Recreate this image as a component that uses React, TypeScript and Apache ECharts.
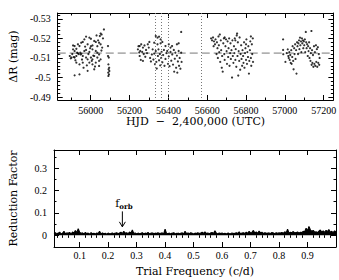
import React, { useEffect, useRef } from "react";
import * as echarts from "echarts";

// ---------- Data ----------
const HJD_TICKS = [56000, 56200, 56400, 56600, 56800, 57000, 57200];
const MAG_TICKS = [-0.53, -0.52, -0.51, -0.5, -0.49];
const FREQ_TICKS = [0.1, 0.2, 0.3, 0.4, 0.5, 0.6, 0.7, 0.8, 0.9];
const RF_TICKS = [0, 0.1, 0.2, 0.3];

const MEAN_MAG = -0.5125;
const EPOCH_MARKS = [56330, 56365, 56400, 56570];
const F_ORB = 0.25;

const SEASON_1: [number, number][] = [
  [55892, -0.511], [55897, -0.5098], [55901, -0.5102], [55905, -0.512], [55909, -0.5144], [55909, -0.5164],
  [55913, -0.5105], [55917, -0.5161], [55917, -0.5136], [55917, -0.5102], [55917, -0.5011], [55921, -0.5088],
  [55926, -0.5147], [55926, -0.511], [55926, -0.5076], [55930, -0.5127], [55934, -0.517], [55934, -0.5124],
  [55938, -0.512], [55942, -0.5161], [55942, -0.5067], [55942, -0.5016], [55946, -0.5127], [55948, -0.5118],
  [55951, -0.5178], [55952, -0.5122], [55955, -0.5092], [55959, -0.5182], [55959, -0.511], [55959, -0.5076],
  [55963, -0.505], [55967, -0.5195], [55967, -0.5136], [55971, -0.5158], [55976, -0.5209], [55976, -0.5141],
  [55976, -0.5102], [55980, -0.5062], [55984, -0.517], [55984, -0.5093], [55984, -0.5034], [55988, -0.512],
  [55993, -0.5204], [55993, -0.5131], [55993, -0.5076], [55997, -0.515], [56001, -0.5198], [56001, -0.516],
  [56001, -0.5102], [56005, -0.5085], [56009, -0.5164], [56009, -0.5144], [56009, -0.5093], [56009, -0.5067],
  [56013, -0.5112], [56018, -0.5187], [56018, -0.511], [56018, -0.5042], [56022, -0.5056], [56026, -0.5182],
  [56026, -0.5136], [56026, -0.5076], [56030, -0.5215], [56034, -0.516], [56034, -0.5127], [56034, -0.5102],
  [56038, -0.519], [56043, -0.5178], [56043, -0.5118], [56043, -0.5085], [56043, -0.5059], [56047, -0.5212],
  [56051, -0.5225], [56051, -0.517], [56051, -0.5093], [56055, -0.5138], [56056, -0.522], [56059, -0.5153],
  [56063, -0.52], [56068, -0.5246], [56089, -0.5161], [56089, -0.511], [56091, -0.5067], [56093, -0.5102],
  [56095, -0.505], [56092, -0.5042], [56096, -0.5033], [56090, -0.5025], [56094, -0.5016], [56091, -0.5008],
];

const SEASON_2: [number, number][] = [
  [56243, -0.5144], [56246, -0.516], [56250, -0.5128], [56252, -0.5161], [56252, -0.511], [56255, -0.5136],
  [56258, -0.509], [56260, -0.517], [56265, -0.5131], [56269, -0.5153], [56269, -0.5085], [56273, -0.512],
  [56277, -0.5164], [56281, -0.5106], [56285, -0.5141], [56290, -0.5125], [56294, -0.517], [56299, -0.5153],
  [56302, -0.5182], [56306, -0.51], [56310, -0.5082], [56315, -0.5118], [56319, -0.5144], [56323, -0.5092],
  [56327, -0.5178], [56327, -0.5122], [56331, -0.5068], [56335, -0.5212], [56335, -0.5136], [56338, -0.508],
  [56340, -0.5046], [56344, -0.5204], [56344, -0.517], [56346, -0.511], [56349, -0.5144], [56352, -0.5209],
  [56352, -0.5088], [56356, -0.512], [56358, -0.5062], [56360, -0.5195], [56360, -0.5175], [56363, -0.51],
  [56365, -0.5131], [56369, -0.5182], [56369, -0.5078], [56373, -0.5115], [56377, -0.5141], [56380, -0.506],
  [56385, -0.5161], [56385, -0.5095], [56390, -0.5125], [56394, -0.5136], [56398, -0.507], [56402, -0.517],
  [56402, -0.5108], [56406, -0.5058], [56411, -0.5153], [56411, -0.5131], [56415, -0.5086], [56419, -0.5161],
  [56420, -0.5118], [56424, -0.5066], [56428, -0.5141], [56430, -0.503], [56433, -0.5096], [56436, -0.5127],
  [56440, -0.505], [56444, -0.517], [56444, -0.5112], [56446, -0.5025], [56449, -0.5082], [56453, -0.5175],
  [56453, -0.5136], [56455, -0.506], [56458, -0.51], [56462, -0.5045], [56466, -0.5233], [56466, -0.5127],
  [56468, -0.508],
];

const SEASON_3: [number, number][] = [
  [56620, -0.52], [56625, -0.519], [56630, -0.5205], [56633, -0.516], [56635, -0.5185], [56640, -0.517],
  [56643, -0.5195], [56648, -0.512], [56650, -0.518], [56653, -0.515], [56655, -0.51], [56658, -0.521],
  [56660, -0.5165], [56662, -0.513], [56665, -0.522], [56667, -0.508], [56670, -0.519], [56672, -0.514],
  [56675, -0.505], [56677, -0.511], [56680, -0.503], [56683, -0.5175], [56686, -0.52], [56688, -0.512],
  [56690, -0.509], [56690, -0.5205], [56694, -0.516], [56697, -0.5195], [56700, -0.5135], [56702, -0.507],
  [56705, -0.5185], [56708, -0.5105], [56710, -0.515], [56713, -0.52], [56715, -0.506], [56718, -0.5125],
  [56720, -0.5175], [56722, -0.5095], [56725, -0.514], [56728, -0.5], [56730, -0.519], [56732, -0.511],
  [56735, -0.5075], [56738, -0.516], [56740, -0.5125], [56742, -0.52], [56745, -0.509], [56745, -0.519],
  [56747, -0.5145], [56750, -0.5055], [56752, -0.5215], [56754, -0.5225], [56756, -0.511], [56758, -0.518],
  [56760, -0.501], [56762, -0.5135], [56765, -0.5085], [56767, -0.5205], [56770, -0.504], [56772, -0.512],
  [56775, -0.5165], [56777, -0.5095], [56780, -0.506], [56782, -0.514], [56785, -0.511], [56787, -0.5075],
  [56790, -0.518], [56792, -0.505], [56795, -0.5125], [56797, -0.515], [56800, -0.509], [56800, -0.517],
  [56802, -0.5195], [56805, -0.507], [56807, -0.513], [56810, -0.5105], [56812, -0.516], [56815, -0.502],
  [56817, -0.5085], [56820, -0.514], [56822, -0.5185], [56825, -0.51], [56825, -0.521], [56827, -0.506],
  [56830, -0.517], [56832, -0.512], [56835, -0.52], [56836, -0.508],
];

const SEASON_4: [number, number][] = [
  [56991, -0.5195], [56991, -0.5141], [56992, -0.5119], [57003, -0.508], [57010, -0.5125], [57015, -0.5144],
  [57018, -0.511], [57020, -0.51], [57023, -0.513], [57025, -0.509], [57028, -0.5115], [57030, -0.5075],
  [57033, -0.514], [57035, -0.507], [57038, -0.5105], [57040, -0.516], [57043, -0.5085], [57045, -0.5042],
  [57048, -0.515], [57050, -0.512], [57053, -0.517], [57055, -0.5095], [57058, -0.514], [57060, -0.502],
  [57063, -0.518], [57065, -0.516], [57068, -0.512], [57070, -0.5175], [57073, -0.519], [57075, -0.5145],
  [57078, -0.5204], [57080, -0.5165], [57083, -0.5185], [57085, -0.513], [57088, -0.52], [57090, -0.5175],
  [57093, -0.519], [57095, -0.515], [57098, -0.5185], [57100, -0.5165], [57103, -0.5195], [57105, -0.513],
  [57108, -0.5233], [57110, -0.518], [57112, -0.515], [57115, -0.517], [57118, -0.511], [57120, -0.516],
  [57122, -0.5135], [57125, -0.518], [57127, -0.51], [57130, -0.515], [57132, -0.5085], [57134, -0.5125],
  [57137, -0.5238], [57138, -0.5065], [57140, -0.514], [57142, -0.5075], [57145, -0.5115], [57147, -0.5055],
  [57150, -0.516], [57152, -0.507], [57155, -0.513], [57157, -0.506], [57160, -0.5165], [57162, -0.508],
  [57165, -0.5145], [57167, -0.5055], [57170, -0.5155], [57172, -0.5075], [57175, -0.512], [57177, -0.5065],
  [57179, -0.51],
];

// Reduction factor sampled on the trial-frequency grid (start 0.01, step 0.005)
const FREQ_START = 0.01;
const FREQ_STEP = 0.005;
const RF_VALUES = [
  0.008, 0.012, 0.005, 0.01, 0.014, 0.006, 0.009, 0.018, 0.007, 0.011,
  0.009, 0.013, 0.006, 0.015, 0.01, 0.022, 0.012, 0.03, 0.014, 0.009,
  0.011, 0.006, 0.013, 0.008, 0.01, 0.005, 0.012, 0.007, 0.009, 0.006,
  0.01, 0.008, 0.018, 0.006, 0.011, 0.007, 0.009, 0.005, 0.01, 0.007,
  0.008, 0.011, 0.006, 0.009, 0.012, 0.007, 0.01, 0.014, 0.008, 0.018,
  0.009, 0.012, 0.007, 0.015, 0.01, 0.024, 0.008, 0.011, 0.006, 0.01,
  0.007, 0.009, 0.012, 0.006, 0.01, 0.008, 0.013, 0.007, 0.009, 0.011,
  0.006, 0.01, 0.008, 0.012, 0.007, 0.009, 0.011, 0.006, 0.028, 0.009,
  0.007, 0.01, 0.006, 0.009, 0.012, 0.008, 0.006, 0.01, 0.007, 0.009,
  0.011, 0.006, 0.018, 0.008, 0.01, 0.007, 0.012, 0.009, 0.006, 0.01,
  0.008, 0.012, 0.007, 0.01, 0.014, 0.009, 0.016, 0.008, 0.011, 0.007,
  0.01, 0.013, 0.008, 0.02, 0.009, 0.006, 0.011, 0.008, 0.01, 0.007,
  0.009, 0.006, 0.01, 0.008, 0.007, 0.011, 0.006, 0.009, 0.012, 0.008,
  0.016, 0.007, 0.01, 0.012, 0.008, 0.014, 0.009, 0.018, 0.011, 0.013,
  0.022, 0.01, 0.015, 0.009, 0.019, 0.011, 0.014, 0.008, 0.012, 0.01,
  0.009, 0.011, 0.008, 0.013, 0.01, 0.007, 0.012, 0.009, 0.011, 0.01,
  0.013, 0.009, 0.016, 0.011, 0.028, 0.01, 0.014, 0.012, 0.017, 0.011,
  0.012, 0.015, 0.01, 0.014, 0.013, 0.018, 0.016, 0.032, 0.02, 0.04,
  0.025, 0.018, 0.022, 0.014, 0.016, 0.012, 0.019, 0.024, 0.015, 0.02,
  0.013, 0.022, 0.017, 0.026, 0.014, 0.018, 0.012, 0.02, 0.016,
];

// ---------- Helpers ----------
const SERIF = "DejaVu Serif";
const TICK_FONT = "Liberation Serif";

function minorValues(start: number, end: number, step: number, skipEvery: number, scale: number) {
  const out: number[] = [];
  for (let k = start; k <= end; k++) {
    if (k % skipEvery === 0) continue;
    out.push(Math.round(k * step * scale) / scale);
  }
  return out;
}

function axisSet(
  dim: "x" | "y",
  gridIndex: number,
  cfg: {
    min: number;
    max: number;
    inverse?: boolean;
    majors: number[];
    minors: number[];
    labelMargin: number;
    name: string;
    nameGap: number;
  }
) {
  const sides = dim === "x" ? ["bottom", "top"] : ["left", "right"];
  const base: any = {
    type: "value",
    gridIndex,
    min: cfg.min,
    max: cfg.max,
    inverse: !!cfg.inverse,
    splitLine: { show: false },
    minorTick: { show: false },
  };
  const tickStyle = { color: "#000", width: 1 };
  const line = { show: true, onZero: false, lineStyle: { color: "#000", width: 1 } };
  const major = (pos: string, withLabel: boolean) => ({
    ...base,
    position: pos,
    axisLine: line,
    axisTick: { show: true, inside: true, length: 5, customValues: cfg.majors, lineStyle: tickStyle },
    axisLabel: withLabel
      ? {
          show: true,
          customValues: cfg.majors,
          margin: cfg.labelMargin,
          formatter: (v: number) => String(v),
          fontFamily: TICK_FONT,
          fontSize: 10,
          color: "#000",
        }
      : { show: false },
    ...(withLabel
      ? {
          name: cfg.name,
          nameLocation: "middle",
          nameGap: cfg.nameGap,
          nameTextStyle: { fontFamily: SERIF, fontSize: 11, color: "#000" },
        }
      : {}),
  });
  const minor = (pos: string) => ({
    ...base,
    position: pos,
    axisLine: { show: false },
    axisTick: { show: true, inside: true, length: 2.5, customValues: cfg.minors, lineStyle: tickStyle },
    axisLabel: { show: false },
  });
  return [major(sides[0], true), minor(sides[0]), major(sides[1], false), minor(sides[1])];
}

function buildOption() {
  const TOP_X = { min: 55830, max: 57250 };
  const TOP_Y = { min: -0.533, max: -0.4885 };
  const BOT_X = { min: 0.01, max: 1.0 };
  const BOT_Y = { min: -0.052, max: 0.381 };

  const xAxes = [
    ...axisSet("x", 0, {
      ...TOP_X,
      majors: HJD_TICKS,
      minors: minorValues(559, 571, 100, 2, 1),
      labelMargin: 5,
      name: "HJD  \u2212  2,400,000 (UTC)",
      nameGap: 16,
    }),
    ...axisSet("x", 1, {
      ...BOT_X,
      majors: FREQ_TICKS,
      minors: minorValues(1, 49, 0.02, 5, 1000),
      labelMargin: 3,
      name: "Trial Frequency (c/d)",
      nameGap: 19,
    }),
  ];
  const yAxes = [
    ...axisSet("y", 0, {
      ...TOP_Y,
      inverse: true,
      majors: MAG_TICKS,
      minors: minorValues(-266, -245, 0.002, 5, 10000),
      labelMargin: 7,
      name: "\u0394R (mag)",
      nameGap: 35,
    }),
    ...axisSet("y", 1, {
      ...BOT_Y,
      majors: RF_TICKS,
      minors: [0.05, 0.15, 0.25, 0.35],
      labelMargin: 7,
      name: "Reduction Factor",
      nameGap: 35,
    }),
  ];

  const lightCurve = [...SEASON_1, ...SEASON_2, ...SEASON_3, ...SEASON_4];
  const rf = RF_VALUES.map((v, i) => [FREQ_START + i * FREQ_STEP, v]);

  return {
    animation: false,
    backgroundColor: "#fff",
    grid: [
      { left: 53, right: 3, top: 13, height: 87 },
      { left: 53, right: 3, top: 150, height: 97 },
    ],
    xAxis: xAxes,
    yAxis: yAxes,
    series: [
      {
        type: "line",
        xAxisIndex: 0,
        yAxisIndex: 0,
        z: 1,
        silent: true,
        showSymbol: false,
        data: [
          [TOP_X.min, MEAN_MAG],
          [TOP_X.max, MEAN_MAG],
        ],
        lineStyle: { color: "#777", width: 1, type: [8, 4] },
        markLine: {
          silent: true,
          symbol: "none",
          label: { show: false },
          lineStyle: { color: "#777", width: 1, type: [1, 2] },
          data: EPOCH_MARKS.map((v) => ({ xAxis: v })),
        },
      },
      {
        type: "scatter",
        xAxisIndex: 0,
        yAxisIndex: 0,
        z: 3,
        symbol: "circle",
        symbolSize: 2.2,
        itemStyle: { color: "#000" },
        data: lightCurve,
      },
      {
        type: "line",
        xAxisIndex: 4,
        yAxisIndex: 4,
        showSymbol: false,
        silent: true,
        lineStyle: { color: "#000", width: 1.1 },
        areaStyle: { color: "#000", opacity: 1 },
        data: rf,
      },
      {
        type: "custom",
        xAxisIndex: 4,
        yAxisIndex: 4,
        silent: true,
        data: [[F_ORB, 0.107, 0.038, 0.142]],
        renderItem: (params: any, api: any) => {
          const top = api.coord([api.value(0), api.value(1)]);
          const bot = api.coord([api.value(0), api.value(2)]);
          const txt = api.coord([api.value(0), api.value(3)]);
          const stroke = { stroke: "#000", lineWidth: 1, fill: "none" };
          return {
            type: "group",
            children: [
              { type: "line", shape: { x1: top[0], y1: top[1], x2: bot[0], y2: bot[1] }, style: stroke },
              {
                type: "polyline",
                shape: { points: [[bot[0] - 3, bot[1] - 5], [bot[0], bot[1]], [bot[0] + 3, bot[1] - 5]] },
                style: stroke,
              },
              {
                type: "text",
                x: txt[0] - 5,
                y: txt[1],
                style: { text: "f", fontFamily: SERIF, fontSize: 11, fill: "#000", align: "center", verticalAlign: "middle" },
              },
              {
                type: "text",
                x: txt[0] - 3,
                y: txt[1] + 3,
                style: { text: "orb", fontFamily: SERIF, fontSize: 7, fontWeight: "bold", fill: "#000", align: "left", verticalAlign: "middle" },
              },
            ],
          };
        },
      },
    ],
  };
}

export default function App() {
  const ref = useRef<HTMLDivElement>(null);
  useEffect(() => {
    const chart = echarts.init(ref.current!, null, { renderer: "svg" });
    chart.setOption(buildOption() as any);
    return () => chart.dispose();
  }, []);
  return (
    <div
      ref={ref}
      style={{ position: "absolute", left: 0, top: 0, width: 339, height: 280, background: "#fff" }}
    />
  );
}
